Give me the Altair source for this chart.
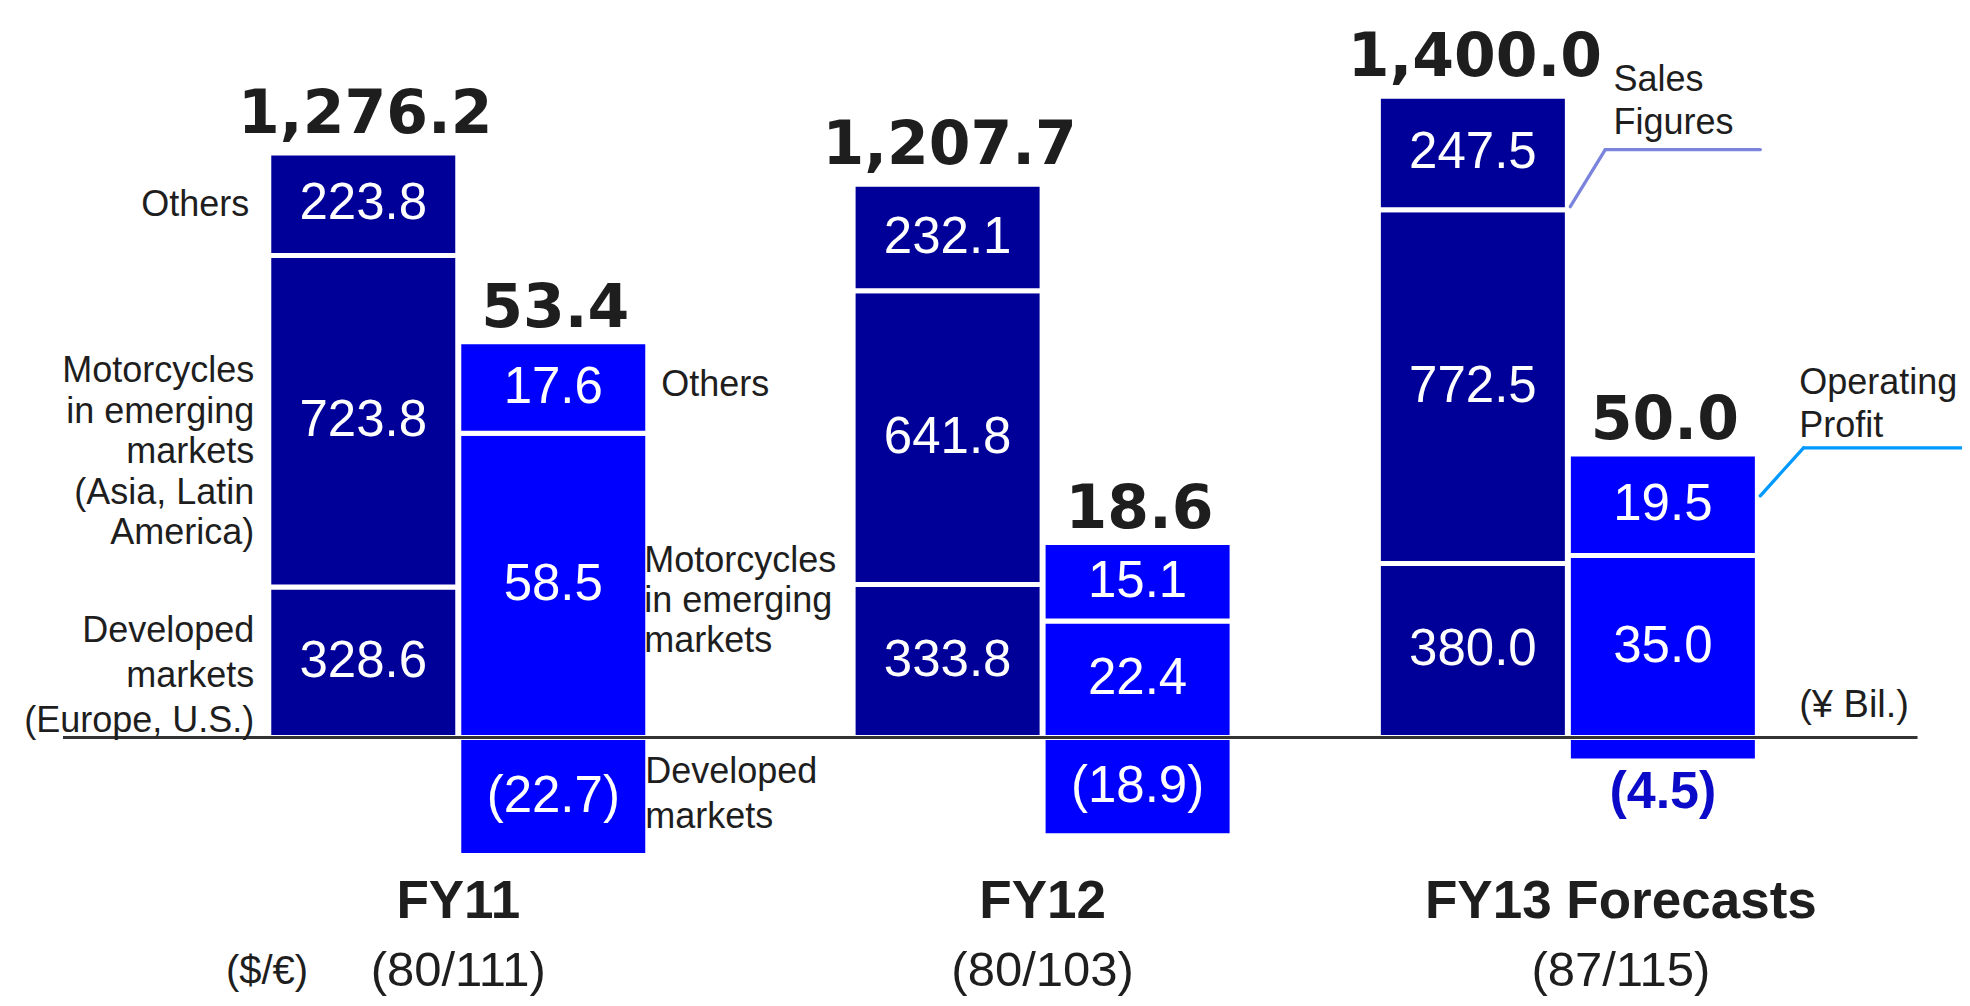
import json
import altair as alt
import pandas as pd

# ---------------- data ----------------
years = ["FY11", "FY12", "FY13 Forecasts"]
segments = ["Developed markets", "Motorcycles in emerging markets", "Others"]
sales_developed = [328.6, 333.8, 380.0]
sales_emerging = [723.8, 641.8, 772.5]
sales_others = [223.8, 232.1, 247.5]
sales_total = [1276.2, 1207.7, 1400.0]
profit_developed = [-22.7, -18.9, -4.5]
profit_emerging = [58.5, 22.4, 35.0]
profit_others = [17.6, 15.1, 19.5]
profit_total = [53.4, 18.6, 50.0]
fx_rates = ["(80/111)", "(80/103)", "(87/115)"]
fx_caption = "($/€)"
unit_label = "(¥ Bil.)"
sales_notes = ["Developed\nmarkets\n(Europe, U.S.)",
               "Motorcycles\nin emerging\nmarkets\n(Asia, Latin\nAmerica)",
               "Others"]
profit_notes = ["Developed\nmarkets",
                "Motorcycles\nin emerging\nmarkets",
                "Others"]
legend_sales = "Sales\nFigures"
legend_profit = "Operating\nProfit"

# ---------------- tables built from the arrays ----------------
sales_cols = [sales_developed, sales_emerging, sales_others]
profit_cols = [profit_developed, profit_emerging, profit_others]
rows = []
for i, yr in enumerate(years):
    for j, seg in enumerate(segments):
        rows.append(dict(year=yr, measure="Sales", segment=seg, order=j,
                         value=sales_cols[j][i], note=sales_notes[j] if i == 0 else ""))
        rows.append(dict(year=yr, measure="Operating Profit", segment=seg, order=j,
                         value=profit_cols[j][i], note=profit_notes[j] if i == 0 else ""))
seg_df = pd.DataFrame(rows)

tot_rows = []
for i, yr in enumerate(years):
    tot_rows.append(dict(year=yr, measure="Sales", total=sales_total[i],
                         top=sum(c[i] for c in sales_cols if c[i] > 0)))
    tot_rows.append(dict(year=yr, measure="Operating Profit", total=profit_total[i],
                         top=sum(c[i] for c in profit_cols if c[i] > 0)))
tot_df = pd.DataFrame(tot_rows)
year_df = pd.DataFrame(dict(year=years, fx=fx_rates))

# ---------------- style / layout constants ----------------
W, H = 1954, 990
GROUP_X = [445.0, 1034.6, 1564.6]
BAR_W = 189
OFF = 95
ZERO_Y = 729.5
S_PER = 0.458
P_PER = 5.2
S_DOMAIN = [-(H - ZERO_Y) / S_PER, ZERO_Y / S_PER]
P_DOMAIN = [-(H - ZERO_Y) / P_PER, ZERO_Y / P_PER]
F = "Liberation Sans, Arial, sans-serif"
FB = "DejaVu Sans, Liberation Sans, sans-serif"
TXT = "#1e1e1e"
NAVY = "#000099"
BLUE = "#0000ff"
IDX = f"indexof({json.dumps(years)}, datum.year)"

x_enc = alt.X("idx:Q", scale=alt.Scale(domain=[0, 1, 2], range=GROUP_X, nice=False, zero=False), axis=None)


def y_enc(field, dom):
    return alt.Y(f"{field}:Q", scale=alt.Scale(domain=dom, nice=False, zero=False), axis=None)


def stacked(measure):
    return (alt.Chart(seg_df)
            .transform_filter(alt.datum.measure == measure)
            .transform_calculate(idx=IDX)
            .transform_stack(stack="value", groupby=["year"],
                             sort=[alt.SortField("order", order="ascending")], as_=["y0", "y1"])
            .transform_calculate(
                mid="(datum.y0 + datum.y1) / 2",
                lab="datum.value < 0 ? '(' + format(-datum.value, '.1f') + ')' : format(datum.value, '.1f')"))


layers = []
for measure, dom, off, col in [("Sales", S_DOMAIN, -OFF, NAVY), ("Operating Profit", P_DOMAIN, OFF, BLUE)]:
    base = stacked(measure)
    layers.append(base.mark_bar(width=BAR_W, xOffset=off, stroke="white", strokeWidth=5, color=col)
                  .encode(x=x_enc, y=y_enc("y0", dom), y2=alt.Y2("y1")))

# zero line
layers.append(alt.Chart(pd.DataFrame({"z": [0]})).mark_rule(color="#333333", strokeWidth=3)
              .encode(x=alt.value(55), x2=alt.value(1909.5), y=y_enc("z", P_DOMAIN)))

# values inside segments
layers.append(stacked("Sales").mark_text(xOffset=-OFF, color="white", fontSize=51, font=F, baseline="middle")
              .encode(x=x_enc, y=y_enc("mid", S_DOMAIN), text="lab:N"))
layers.append(stacked("Operating Profit").transform_filter("abs(datum.value) >= 10")
              .mark_text(xOffset=OFF, color="white", fontSize=51, font=F, baseline="middle")
              .encode(x=x_enc, y=y_enc("mid", P_DOMAIN), text="lab:N"))
layers.append(stacked("Operating Profit").transform_filter("abs(datum.value) < 10")
              .mark_text(xOffset=OFF, color="#0a0ac8", fontSize=52, font=F, fontWeight="bold",
                         baseline="top", dy=6)
              .encode(x=x_enc, y=y_enc("y1", P_DOMAIN), text="lab:N"))

# totals
for measure, dom, off, dy in [("Sales", S_DOMAIN, -93, -20), ("Operating Profit", P_DOMAIN, 97, -15)]:
    layers.append(alt.Chart(tot_df).transform_filter(alt.datum.measure == measure)
                  .transform_calculate(idx=IDX, tl="format(datum.total, ',.1f')")
                  .mark_text(xOffset=off, dy=dy, font=FB, fontWeight="bold", fontSize=60,
                             baseline="alphabetic", color=TXT)
                  .encode(x=x_enc, y=y_enc("top", dom), text="tl:N"))

# segment notes (FY11); dy puts the first line where the reference has it
note_specs = [
    ("Sales", S_DOMAIN, 0, "right", -204, -31, 45),
    ("Sales", S_DOMAIN, 1, "right", -204, -50, 40.5),
    ("Sales", S_DOMAIN, 2, "right", -209, 1, 40),
    ("Operating Profit", P_DOMAIN, 0, "left", 187, -25, 45),
    ("Operating Profit", P_DOMAIN, 1, "left", 186, -24, 40),
    ("Operating Profit", P_DOMAIN, 2, "left", 203, -3, 40),
]
for measure, dom, order, align, xo, dy, lh in note_specs:
    layers.append(stacked(measure)
                  .transform_filter((alt.datum.year == years[0]) & (alt.datum.order == order))
                  .mark_text(align=align, baseline="middle", xOffset=xo, dy=dy, lineBreak="\n",
                             lineHeight=lh, fontSize=36, font=F, color=TXT)
                  .encode(x=x_enc, y=y_enc("mid", dom), text="note:N"))

# legend leaders (FY13)
sales_anchor = stacked("Sales").transform_filter((alt.datum.year == years[2]) & (alt.datum.order == 1))
layers.append(sales_anchor.mark_rule(color="#7b84dd", strokeWidth=3.3, strokeCap="round",
                                     xOffset=2.4, yOffset=-3, x2Offset=37.4, y2Offset=-60)
              .encode(x=x_enc, x2=alt.X2("idx"), y=y_enc("y1", S_DOMAIN), y2=alt.Y2("y1")))
layers.append(sales_anchor.mark_rule(color="#7b84dd", strokeWidth=3.3, strokeCap="round",
                                     xOffset=37.4, yOffset=-60, x2Offset=192.4, y2Offset=-60)
              .encode(x=x_enc, x2=alt.X2("idx"), y=y_enc("y1", S_DOMAIN), y2=alt.Y2("y1")))
layers.append(sales_anchor.mark_text(align="left", baseline="alphabetic", lineBreak="\n", lineHeight=43,
                                     xOffset=45.7, yOffset=-119, fontSize=36, font=F, color=TXT)
              .encode(x=x_enc, y=y_enc("y1", S_DOMAIN), text=alt.value(legend_sales)))

profit_anchor = stacked("Operating Profit").transform_filter((alt.datum.year == years[2]) & (alt.datum.order == 2))
layers.append(profit_anchor.mark_rule(color="#0099ff", strokeWidth=3.3, strokeCap="round",
                                      xOffset=192.4, yOffset=-9, x2Offset=235.7, y2Offset=-57)
              .encode(x=x_enc, x2=alt.X2("idx"), y=y_enc("mid", P_DOMAIN), y2=alt.Y2("mid")))
layers.append(profit_anchor.mark_rule(color="#0099ff", strokeWidth=3.3, strokeCap="round",
                                      xOffset=235.7, yOffset=-57, x2Offset=420, y2Offset=-57)
              .encode(x=x_enc, x2=alt.X2("idx"), y=y_enc("mid", P_DOMAIN), y2=alt.Y2("mid")))
layers.append(profit_anchor.mark_text(align="left", baseline="alphabetic", lineBreak="\n", lineHeight=43.4,
                                      xOffset=231.4, yOffset=-110.7, fontSize=36, font=F, color=TXT)
              .encode(x=x_enc, y=y_enc("mid", P_DOMAIN), text=alt.value(legend_profit)))

# unit label
layers.append(alt.Chart(pd.DataFrame({"t": [unit_label]}))
              .mark_text(align="right", baseline="alphabetic", fontSize=38, font=F, color=TXT)
              .encode(x=alt.value(1901), y=alt.value(708.7), text="t:N"))

# category labels & exchange rates
for cond, dx in [(alt.datum.year != years[2], 0), (alt.datum.year == years[2], 53)]:
    yb = alt.Chart(year_df).transform_calculate(idx=IDX).transform_filter(cond)
    layers.append(yb.mark_text(dx=dx, baseline="alphabetic", fontSize=53, fontWeight="bold", font=F, color=TXT)
                  .encode(x=x_enc, y=alt.value(910.3), text="year:N"))
    layers.append(yb.mark_text(dx=dx, baseline="alphabetic", fontSize=49, font=F, color=TXT)
                  .encode(x=x_enc, y=alt.value(978), text="fx:N"))
layers.append(alt.Chart(pd.DataFrame({"t": [fx_caption]}))
              .mark_text(baseline="alphabetic", fontSize=40, font=F, color=TXT)
              .encode(x=alt.value(259), y=alt.value(976), text="t:N"))

chart = (alt.layer(*layers)
         .resolve_scale(y="independent")
         .properties(width=W, height=H, padding=0, autosize=alt.AutoSizeParams(type="none"),
                     background="white")
         .configure_view(stroke="transparent"))

chart.save("out.html", embed_options={"renderer": "svg", "actions": False})
